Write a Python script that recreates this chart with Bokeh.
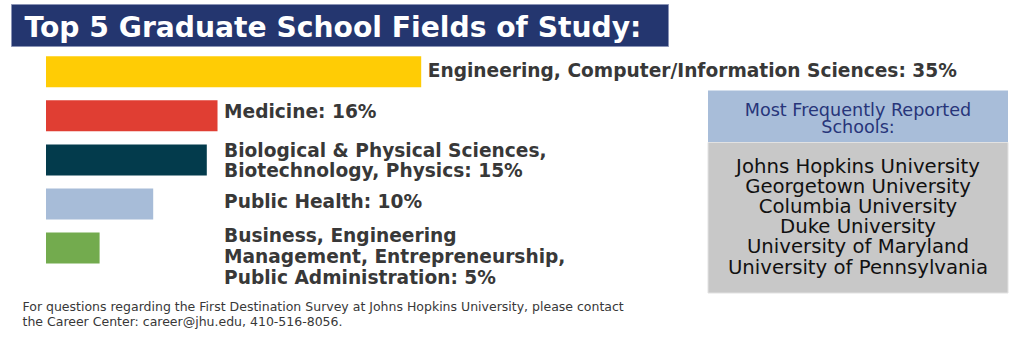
from bokeh.plotting import figure
from bokeh.models import Range1d, ColumnDataSource
from bokeh.core.properties import value
from bokeh.embed import file_html
from bokeh.resources import INLINE

# ---- data ----
fields = [
    "Engineering, Computer/Information Sciences",
    "Medicine",
    "Biological & Physical Sciences,\nBiotechnology, Physics",
    "Public Health",
    "Business, Engineering\nManagement, Entrepreneurship,\nPublic Administration",
]
percents = [35, 16, 15, 10, 5]
bar_colors = ["#FFCC05", "#E03E33", "#033B4C", "#A7BCD8", "#73AB4E"]
title = "Top 5 Graduate School Fields of Study:"
schools_header = ["Most Frequently Reported", "Schools:"]
schools = [
    "Johns Hopkins University",
    "Georgetown University",
    "Columbia University",
    "Duke University",
    "University of Maryland",
    "University of Pennsylvania",
]
footer = ["For questions regarding the First Destination Survey at Johns Hopkins University, please contact",
          "the Career Center: career@jhu.edu, 410-516-8056."]

# ---- layout (pixels) ----
W, H = 1024, 352
X0 = 45.5          # pixel of 0 %
PPU = 10.72        # pixels per percent
ROW0 = 71.2        # pixel centre of first bar
ROW_STEP = 44.1

def dx(px):
    return (px - X0) / PPU

def dy(py):
    return (py - ROW0) / ROW_STEP

FONT = "DejaVu Sans"
TEXT_DARK = "#383838"

p = figure(width=W, height=H, output_backend="svg", toolbar_location=None,
           x_range=Range1d(dx(0), dx(W)), y_range=Range1d(dy(H), dy(0)),
           min_border=0, outline_line_color=None)
p.axis.visible = False
p.grid.visible = False
p.background_fill_color = "white"
p.border_fill_color = "white"

def block(lines, cx, cy, line_h, **kw):
    n = len(lines)
    ys = [dy(cy + (k - (n - 1) / 2) * line_h) for k in range(n)]
    p.text(x=[dx(cx)] * n, y=ys, text=lines, text_baseline="middle",
           text_font=value(FONT), **kw)

# title box
p.quad(left=[dx(11)], right=[dx(668)], top=[dy(4)], bottom=[dy(46)],
       fill_color="#24366F", line_color="#8A93B5", line_width=1)
p.text(x=[dx(24)], y=[dy(26.5)], text=[title], text_color="white",
       text_font=value(FONT), text_font_style="bold", text_font_size="28.2px",
       text_baseline="middle", text_align="left")

# bars
rows = list(range(len(percents)))
src = ColumnDataSource(dict(row=rows, pct=percents, color=bar_colors))
p.hbar(y="row", left=0, right="pct", height=31 / ROW_STEP, fill_color="color",
       line_color=None, source=src)

# bar labels, one entry per text line
label_dy = [-1.0, -4.0, 0.5, -3.0, 8.5]
LINE_H = 20.8
lx, ly, lt, loff = [], [], [], []
for i, (f, v) in enumerate(zip(fields, percents)):
    lines = f"{f}: {v}%".split("\n")
    n = len(lines)
    for k, t in enumerate(lines):
        lx.append(max(v, percents[1]))
        ly.append(i)
        lt.append(t)
        loff.append(label_dy[i] + (k - (n - 1) / 2) * LINE_H)
lsrc = ColumnDataSource(dict(x=lx, y=ly, text=lt, off=loff))
p.text(x="x", y="y", text="text", y_offset="off", x_offset=6.5, source=lsrc,
       text_color=TEXT_DARK, text_font=value(FONT), text_font_style="bold",
       text_font_size="18.6px", text_baseline="middle", text_align="left")

# schools panel
p.quad(left=[dx(707.5)], right=[dx(1007.5)], top=[dy(90)], bottom=[dy(142)],
       fill_color="#A8BDD9", line_color=None)
p.quad(left=[dx(707.5)], right=[dx(1007.5)], top=[dy(142)], bottom=[dy(292.5)],
       fill_color="#C8C8C8", line_color="#E2E2E2", line_width=1)
block(schools_header, 857.5, 118, 17.5, text_color="#27357A",
      text_font_size="17.6px", text_align="center")
block(schools, 857.5, 216, 20.2, text_color="#111111",
      text_font_size="19.7px", text_align="center")

# footer
block(footer, 22, 313.5, 15, text_color=TEXT_DARK,
      text_font_size="12.5px", text_align="left")

open("out.html", "w").write(file_html(p, INLINE))
